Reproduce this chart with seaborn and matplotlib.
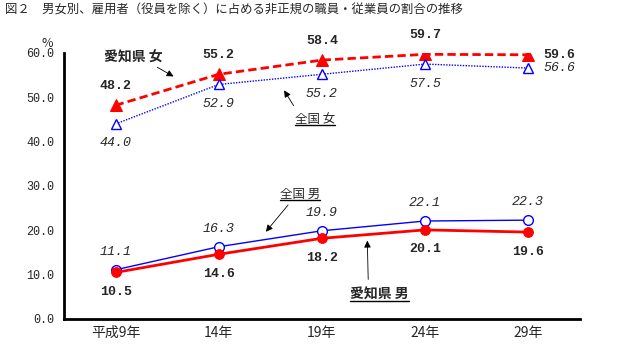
import pandas as pd
import seaborn as sns
import matplotlib.pyplot as plt
from matplotlib.lines import Line2D

years = ['平成9年', '14年', '19年', '24年', '29年']
aichi_female = [48.2, 55.2, 58.4, 59.7, 59.6]
japan_female = [44.0, 52.9, 55.2, 57.5, 56.6]
japan_male = [11.1, 16.3, 19.9, 22.1, 22.3]
aichi_male = [10.5, 14.6, 18.2, 20.1, 19.6]

TITLE = '図２　男女別、雇用者（役員を除く）に占める非正規の職員・従業員の割合の推移'
JP = ['Noto Sans CJK JP', 'DejaVu Sans']
MONO = ['Liberation Mono', 'DejaVu Sans Mono']


def build_frame():
    rows = []
    for name, vals in [('aichi_f', aichi_female), ('japan_f', japan_female),
                       ('japan_m', japan_male), ('aichi_m', aichi_male)]:
        for i, v in enumerate(vals):
            rows.append({'series': name, 'pos': i, 'value': v})
    return pd.DataFrame(rows)


def draw_series(ax, data, name, **kw):
    sub = data[data['series'] == name]
    sns.lineplot(data=sub, x='pos', y='value', ax=ax, legend=False, **kw)


def label_values(ax, vals, dy, bold, last_dx=0.0):
    style = dict(fontsize=9.5, family=MONO,
                 fontweight='bold' if bold else 'normal',
                 fontstyle='normal' if bold else 'italic')
    for i, v in enumerate(vals):
        txt = '%.1f' % v
        if i == len(vals) - 1 and last_dx:
            ax.annotate(txt, (i, v), xytext=(last_dx, 0), textcoords='offset points',
                        ha='left', va='center', **style)
        else:
            ax.annotate(txt, (i, v), xytext=(0, dy), textcoords='offset points',
                        ha='center', va='center', **style)


def underline(fig, texts):
    # 下線を引く (テキストの範囲から)
    fig.canvas.draw()
    renderer = fig.canvas.get_renderer()
    inv = fig.transFigure.inverted()
    for t in texts:
        bb = t.get_window_extent(renderer)
        (x0, y0), (x1, _) = inv.transform([(bb.x0, bb.y0 + 1), (bb.x1, bb.y0)])
        fig.add_artist(Line2D([x0, x1], [y0, y0], transform=fig.transFigure,
                              color='black', lw=1))


def main():
    sns.set_theme(style='white')
    plt.rcParams['font.family'] = JP
    data = build_frame()

    fig = plt.figure(figsize=(6.24, 3.62), dpi=100)
    ax = fig.add_axes([0.1026, 0.1188, 0.8264, 0.7348])

    draw_series(ax, data, 'aichi_f', color='#ff0000', linestyle=(0, (3, 1.5)), linewidth=2,
                marker='^', markersize=8, markeredgecolor='#ff0000', markerfacecolor='#ff0000')
    draw_series(ax, data, 'japan_f', color='#0000ff', linestyle=(0, (1, 1)), linewidth=1,
                marker='^', markersize=7, markeredgecolor='#0000ff', markerfacecolor='white',
                markeredgewidth=1)
    draw_series(ax, data, 'japan_m', color='#0000ff', linewidth=1,
                marker='o', markersize=7, markeredgecolor='#0000ff', markerfacecolor='white',
                markeredgewidth=1)
    draw_series(ax, data, 'aichi_m', color='#ff0000', linewidth=2,
                marker='o', markersize=7, markeredgecolor='#ff0000', markerfacecolor='#ff0000')

    label_values(ax, aichi_female, 14, True, last_dx=11)
    label_values(ax, japan_female, -14, False, last_dx=11)
    label_values(ax, japan_male, 13, False)
    label_values(ax, aichi_male, -14, True)

    # 系列名と矢印
    arrow = dict(arrowstyle='-|>', color='black', lw=0.6, mutation_scale=10)
    ax.annotate('', xy=(0.585, 54.4), xytext=(0.38, 57.1), arrowprops=arrow)
    ax.annotate('', xy=(1.62, 52.1), xytext=(1.74, 47.6), arrowprops=arrow)
    ax.annotate('', xy=(1.44, 19.2), xytext=(1.69, 26.2), arrowprops=arrow)
    ax.annotate('', xy=(2.44, 18.3), xytext=(2.45, 8.3), arrowprops=arrow)
    ax.text(0.17, 59.2, '愛知県 女', fontsize=10, fontweight='bold', ha='center', va='center')
    t1 = ax.text(1.93, 44.9, '全国 女', fontsize=9, ha='center', va='center')
    t2 = ax.text(1.79, 28.0, '全国 男', fontsize=9, ha='center', va='center')
    t3 = ax.text(2.56, 5.4, '愛知県 男', fontsize=10, fontweight='bold', ha='center', va='center')

    ax.set_xlim(-0.5, 4.5)
    ax.set_ylim(0, 60)
    ax.set_xticks(range(len(years)))
    ax.set_xticklabels(years, fontsize=10)
    ax.set_yticks([0, 10, 20, 30, 40, 50, 60])
    ax.set_yticklabels(['%.1f' % t for t in [0, 10, 20, 30, 40, 50, 60]], family=MONO, fontsize=8.5)
    ax.tick_params(axis='y', direction='out', length=4, width=1.5, color='black', pad=3)
    ax.tick_params(axis='x', length=0, pad=5)
    ax.set_xlabel('')
    ax.set_ylabel('')
    for side in ['top', 'right']:
        ax.spines[side].set_visible(False)
    for side in ['left', 'bottom']:
        ax.spines[side].set_color('black')
        ax.spines[side].set_linewidth(2)

    fig.text(0.066, 0.88, '%', fontsize=9, ha='left', va='center')
    fig.text(0.008, 0.972, TITLE, fontsize=8.9, ha='left', va='center')

    underline(fig, [t1, t2, t3])
    fig.savefig('out.png', dpi=100, facecolor='white')


if __name__ == '__main__':
    main()
